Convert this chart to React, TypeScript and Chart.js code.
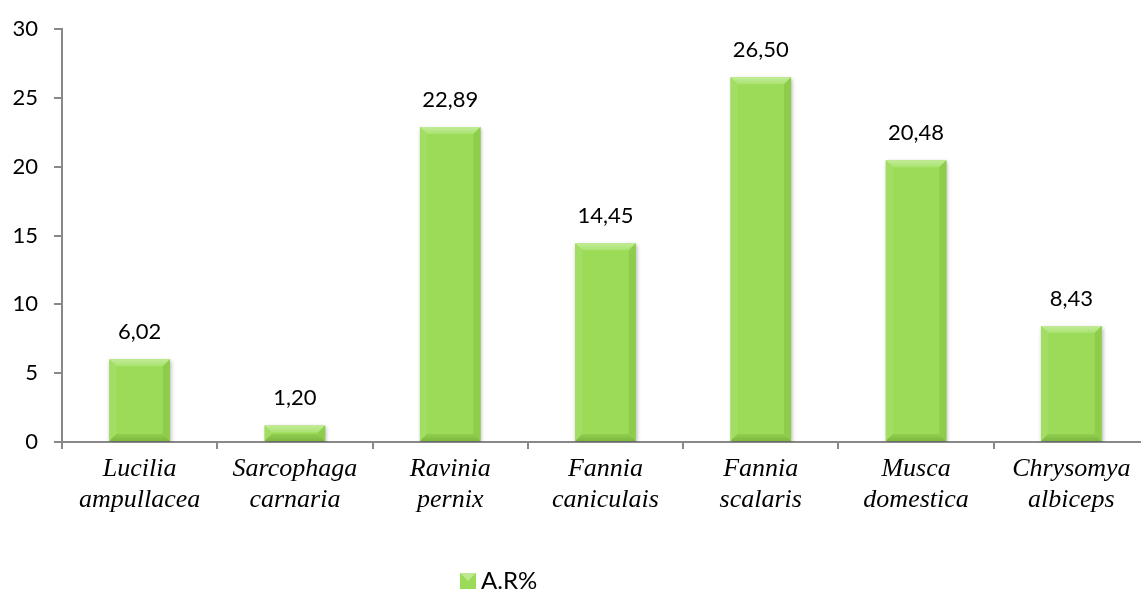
import React, { useEffect, useRef } from "react";
import { Chart, registerables } from "chart.js";

Chart.register(...registerables);

const categories: string[][] = [
  ["Lucilia", "ampullacea"],
  ["Sarcophaga", "carnaria"],
  ["Ravinia", "pernix"],
  ["Fannia", "caniculais"],
  ["Fannia", "scalaris"],
  ["Musca", "domestica"],
  ["Chrysomya", "albiceps"],
];
const seriesLabel = "A.R%";
const values: number[] = [6.02, 1.2, 22.89, 14.45, 26.5, 20.48, 8.43];
const yTicks = { min: 0, max: 30, step: 5 };

const FACE = "#9BDB57";
const SANS = "Lato, 'Open Sans', sans-serif";

const bevelPlugin = {
  id: "bevelAndLabels",
  beforeDatasetsDraw(chart: any) {
    const ctx = chart.ctx;
    ctx.save();
    ctx.shadowColor = "rgba(0,0,0,0.3)";
    ctx.shadowBlur = 4;
    ctx.shadowOffsetX = 1;
    ctx.shadowOffsetY = 2;
  },
  afterDatasetsDraw(chart: any) {
    const ctx = chart.ctx;
    ctx.restore();
    const meta = chart.getDatasetMeta(0);
    const data = chart.data.datasets[0].data as number[];
    meta.data.forEach((bar: any, i: number) => {
      const { x, y, base, width } = bar.getProps(["x", "y", "base", "width"], true);
      const l = x - width / 2;
      const r = x + width / 2;
      const t = y;
      const b = base;
      const h = b - t;
      const bv = Math.min(7, h / 2);
      const poly = (pts: number[][], color: any) => {
        ctx.beginPath();
        ctx.moveTo(pts[0][0], pts[0][1]);
        for (let k = 1; k < pts.length; k++) ctx.lineTo(pts[k][0], pts[k][1]);
        ctx.closePath();
        ctx.fillStyle = color;
        ctx.fill();
      };
      const gTop = ctx.createLinearGradient(0, t, 0, t + bv);
      gTop.addColorStop(0, "#C2EC98");
      gTop.addColorStop(1, "#A9E270");
      poly([[l, t], [r, t], [r - bv, t + bv], [l + bv, t + bv]], gTop);
      poly([[l, t], [l + bv, t + bv], [l + bv, b - bv], [l, b]], "#A3DE64");
      poly([[r, t], [r, b], [r - bv, b - bv], [r - bv, t + bv]], "#8ECC4C");
      const gBot = ctx.createLinearGradient(0, b - bv, 0, b);
      gBot.addColorStop(0, "#90CE4F");
      gBot.addColorStop(1, "#7DB83F");
      poly([[l, b], [l + bv, b - bv], [r - bv, b - bv], [r, b]], gBot);
      ctx.save();
      ctx.fillStyle = "#000";
      ctx.font = `22px ${SANS}`;
      ctx.textAlign = "center";
      ctx.textBaseline = "alphabetic";
      ctx.fillText(data[i].toFixed(2).replace(".", ","), x, t - 20);
      ctx.restore();
    });
  },
  afterDraw(chart: any) {
    const ctx = chart.ctx;
    const ds = chart.data.datasets[0];
    ctx.save();
    const bx = 460, by = 573, bs = 16;
    ctx.fillStyle = FACE;
    ctx.fillRect(bx, by, bs, bs);
    ctx.fillStyle = "#BDEA90";
    ctx.beginPath();
    ctx.moveTo(bx, by);
    ctx.lineTo(bx + bs, by);
    ctx.lineTo(bx + bs / 2, by + bs / 2);
    ctx.closePath();
    ctx.fill();
    ctx.fillStyle = "#000";
    ctx.font = `24px ${SANS}`;
    ctx.textAlign = "left";
    ctx.textBaseline = "alphabetic";
    ctx.fillText(ds.label, bx + bs + 5, by + 16);
    ctx.restore();
  },
};

export default function App() {
  const ref = useRef<HTMLCanvasElement>(null);
  useEffect(() => {
    if (!ref.current) return;
    const chart = new Chart(ref.current, {
      type: "bar",
      data: {
        labels: categories,
        datasets: [
          {
            label: seriesLabel,
            data: values,
            backgroundColor: FACE,
            borderWidth: 0,
            barPercentage: 0.39,
            categoryPercentage: 1,
          },
        ],
      },
      options: {
        animation: false,
        responsive: false,
        devicePixelRatio: 1,
        layout: { padding: { top: 21, left: 0, right: 0, bottom: 0 } },
        plugins: {
          legend: { display: false },
          tooltip: { enabled: false },
        },
        scales: {
          x: {
            afterFit: (s: any) => {
              s.height = 148;
            },
            border: { display: true, color: "#888", width: 2 },
            grid: {
              offset: true,
              drawOnChartArea: false,
              drawTicks: true,
              tickLength: 7,
              color: "#888",
              lineWidth: 2,
            },
            ticks: {
              color: "#000",
              padding: 5,
              maxRotation: 0,
              autoSkip: false,
              font: { family: "'Liberation Serif', 'Times New Roman', serif", style: "italic", size: 26, lineHeight: "31px" },
            },
          },
          y: {
            min: yTicks.min,
            max: yTicks.max,
            afterFit: (s: any) => {
              s.width = 62;
            },
            border: { display: true, color: "#888", width: 2 },
            grid: {
              drawOnChartArea: false,
              drawTicks: true,
              tickLength: 8,
              color: "#888",
              lineWidth: 2,
            },
            ticks: {
              stepSize: yTicks.step,
              color: "#000",
              padding: 16,
              font: { family: SANS, size: 22 },
            },
          },
        },
      },
      plugins: [bevelPlugin],
    });
    return () => chart.destroy();
  }, []);
  return (
    <div style={{ position: "fixed", left: 0, top: 0, width: 1141, height: 590, overflow: "hidden", background: "#fff" }}>
      <canvas ref={ref} width={1149} height={590} style={{ display: "block" }} />
    </div>
  );
}
